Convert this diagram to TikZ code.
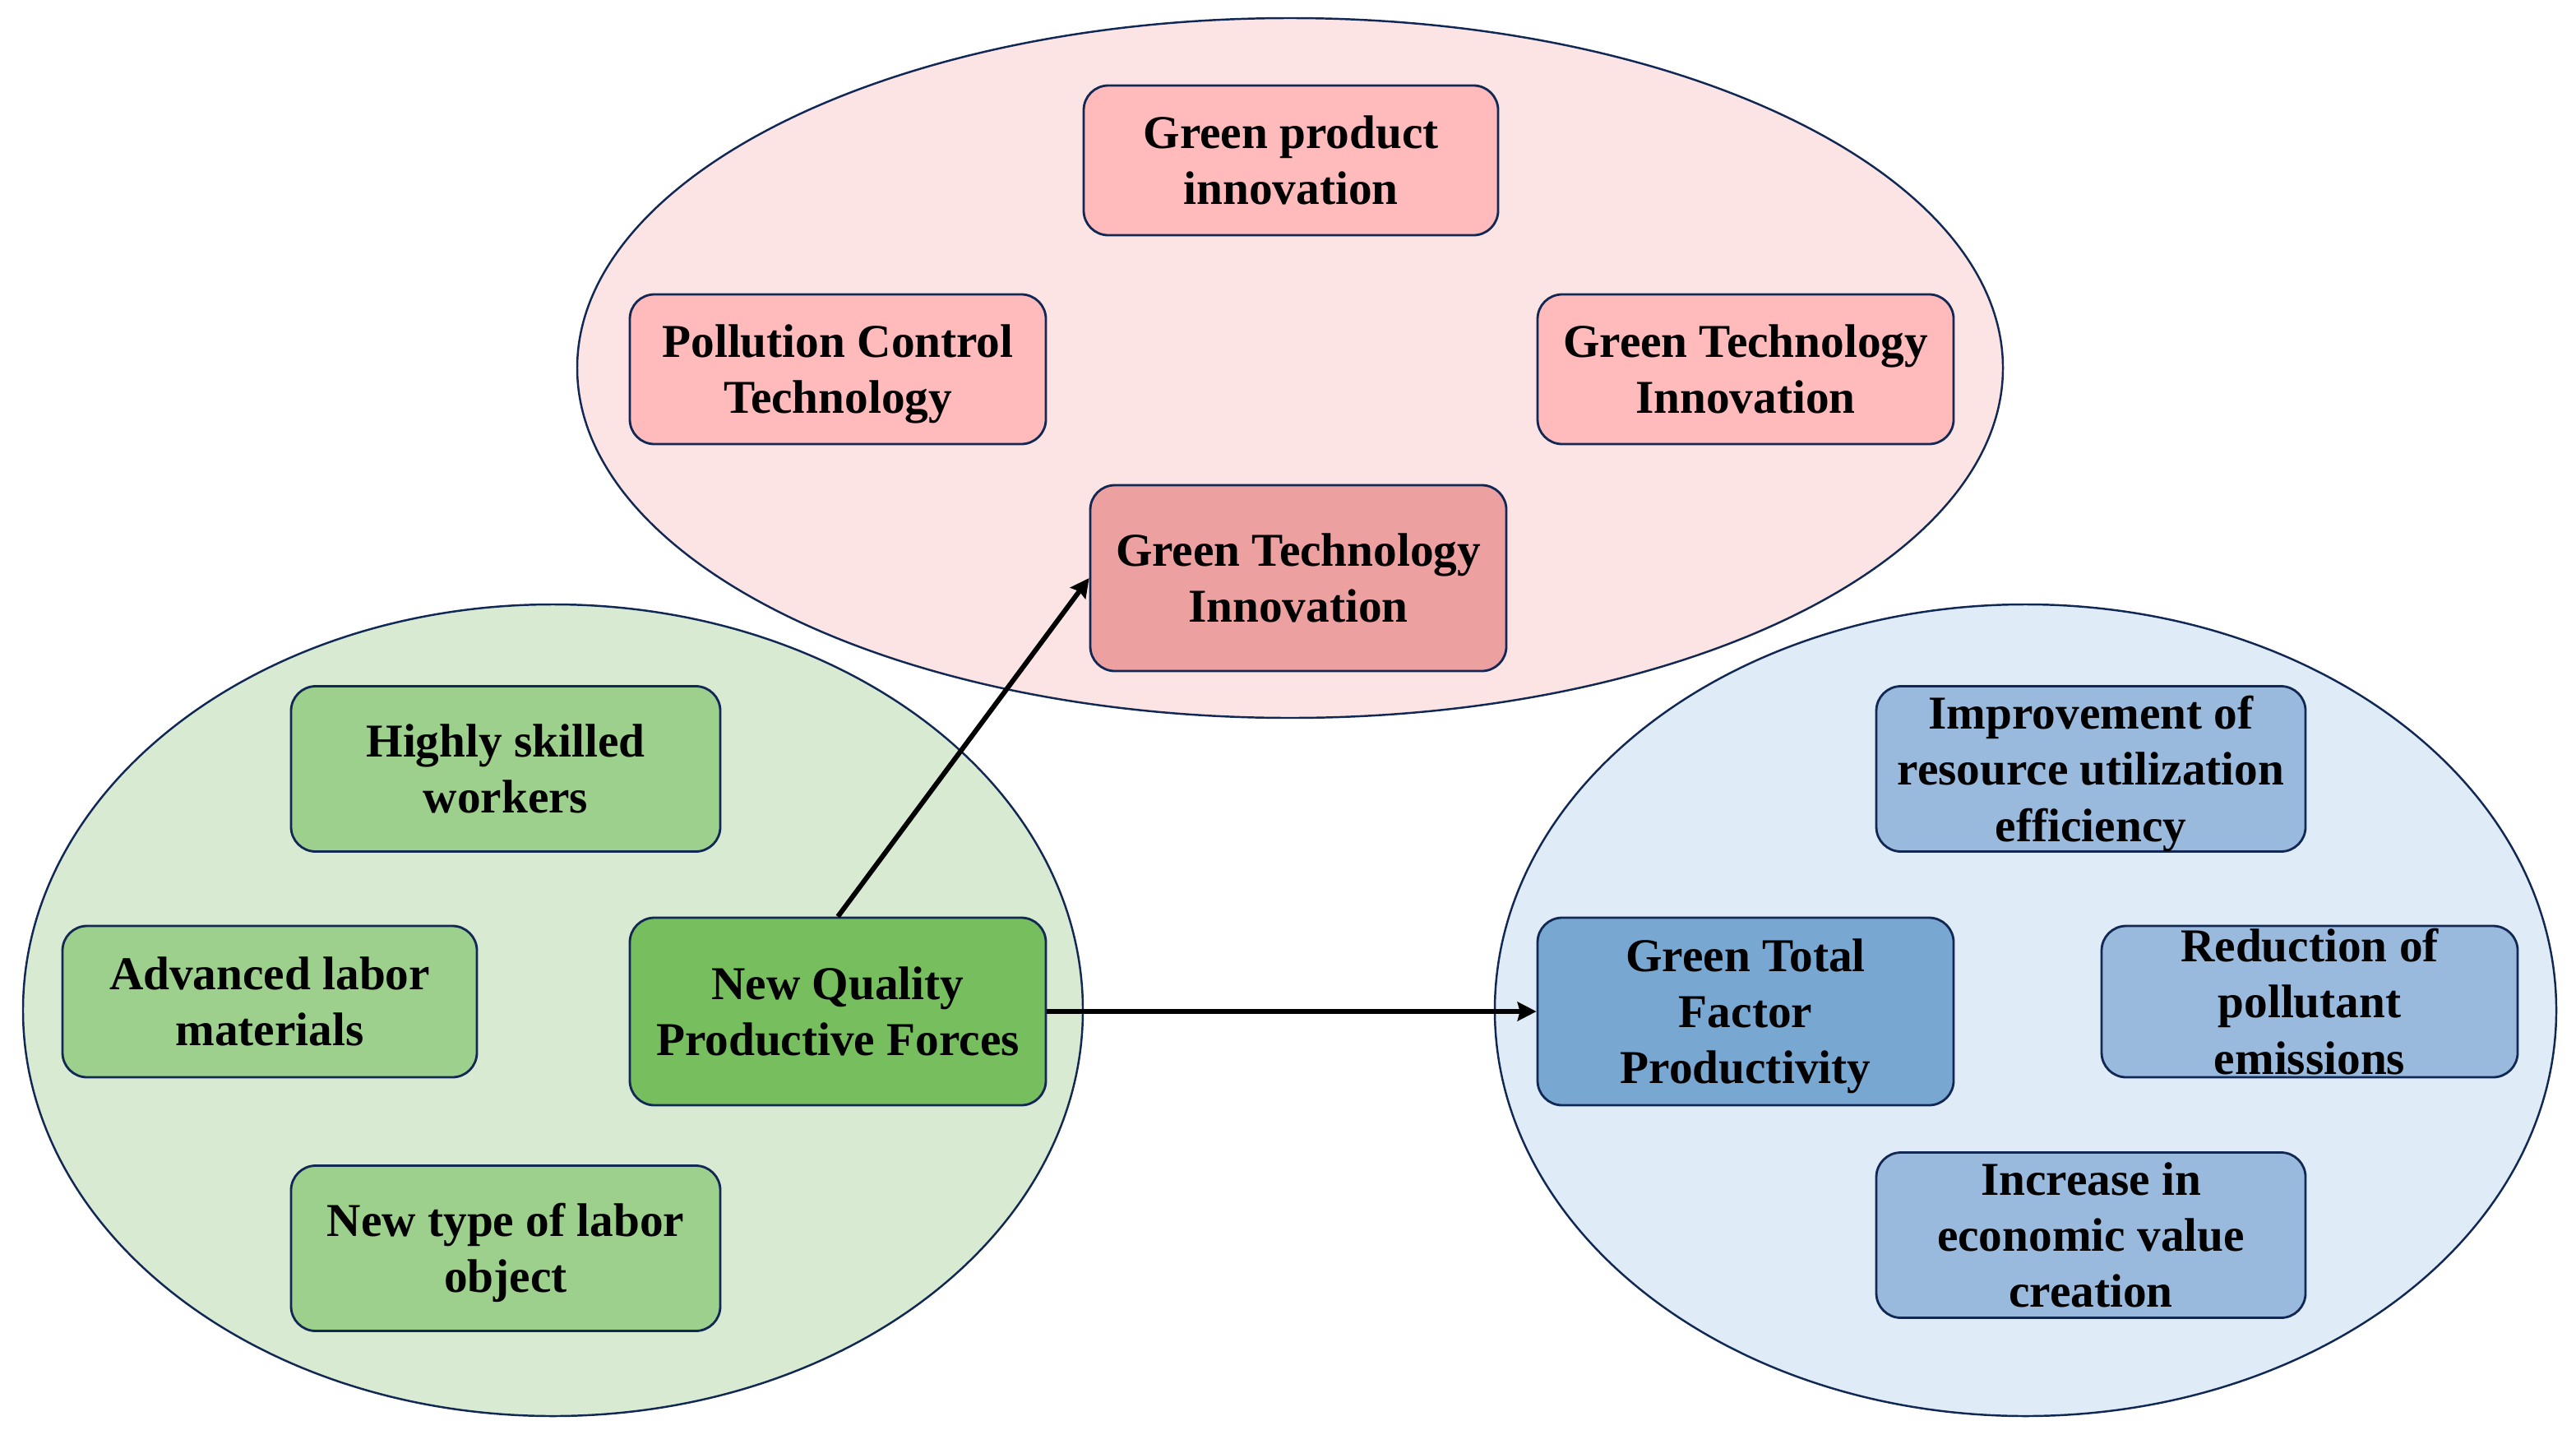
\documentclass[tikz,border=0pt]{standalone}
\usepackage{fontspec}
\setmainfont{Liberation Serif}
\usetikzlibrary{arrows.meta}
\definecolor{edgec}{RGB}{18,40,84}
\definecolor{redzone}{RGB}{252,228,229}
\definecolor{redbox}{RGB}{255,187,188}
\definecolor{redkey}{RGB}{237,160,160}
\definecolor{greenzone}{RGB}{217,234,211}
\definecolor{greenbox}{RGB}{157,208,140}
\definecolor{greenkey}{RGB}{119,190,94}
\definecolor{bluezone}{RGB}{223,235,246}
\definecolor{bluebox}{RGB}{153,186,221}
\definecolor{bluekey}{RGB}{120,168,210}
\tikzset{
  zone/.style  = {draw=edgec, line width=0.7pt},
  card/.style  = {draw=edgec, line width=0.8pt, rounded corners=8.5pt,
                  minimum width=5.06cm, minimum height=1.82cm, inner sep=0pt},
  wide/.style  = {minimum width=5.22cm, minimum height=2.01cm},
  words/.style = {align=center, inner sep=0pt, yshift=-1.7pt,
                  font=\bfseries\fontsize{16.3}{19.4}\selectfont,
                  execute at end node=\vphantom{g}},
  flow/.style  = {-{Stealth[length=6.5pt, width=6.5pt, inset=0.8pt]}, line width=1.7pt},
}
\begin{document}
\begin{tikzpicture}
\useasboundingbox (0,0) rectangle (31.33,-17.55);

% the three zones
\draw[zone, fill=redzone]   (15.69,-4.475)  ellipse [x radius=8.67,  y radius=4.255];
\draw[zone, fill=greenzone] (6.725,-12.285) ellipse [x radius=6.445, y radius=4.935];
\draw[zone, fill=bluezone]  (24.635,-12.285) ellipse [x radius=6.455, y radius=4.935];

% green technology innovation
\node[card, fill=redbox, minimum width=5.04cm] (gpi) at (15.70,-1.95) {};
\node[card, fill=redbox] (pct) at (10.19,-4.49) {};
\node[card, fill=redbox] (gtr) at (21.23,-4.49) {};
\node[card, fill=redkey, minimum height=2.26cm] (gti) at (15.79,-7.03) {};

% new quality productive forces
\node[card, wide, fill=greenbox] (hsw) at (6.15,-9.35) {};
\node[card, fill=greenbox, minimum width=5.04cm, minimum height=1.84cm] (alm) at (3.28,-12.18) {};
\node[card, fill=greenkey, minimum height=2.28cm] (nqpf) at (10.19,-12.30) {};
\node[card, wide, fill=greenbox] (ntlo) at (6.15,-15.18) {};

% green total factor productivity
\node[card, wide, fill=bluebox] (irue) at (25.43,-9.35) {};
\node[card, fill=bluekey, minimum height=2.28cm] (gtfp) at (21.23,-12.30) {};
\node[card, fill=bluebox, minimum height=1.84cm] (rpe) at (28.09,-12.18) {};
\node[card, wide, fill=bluebox] (iev) at (25.43,-15.02) {};

\node[words] (gpi-t)  at (gpi)  {Green product\\innovation};
\node[words] (pct-t)  at (pct)  {Pollution Control\\Technology};
\node[words] (gtr-t)  at (gtr)  {Green Technology\\Innovation};
\node[words] (gti-t)  at (gti)  {Green Technology\\Innovation};
\node[words] (hsw-t)  at (hsw)  {Highly skilled\\workers};
\node[words] (alm-t)  at (alm)  {Advanced labor\\materials};
\node[words] (nqpf-t) at (nqpf) {New Quality\\Productive Forces};
\node[words] (ntlo-t) at (ntlo) {New type of labor\\object};
\node[words] (irue-t) at (irue) {Improvement of\\resource utilization\\efficiency};
\node[words] (gtfp-t) at (gtfp) {Green Total\\Factor\\Productivity};
\node[words] (rpe-t)  at (rpe)  {Reduction of\\pollutant\\emissions};
\node[words] (iev-t)  at (iev)  {Increase in\\economic value\\creation};

\draw[flow] (nqpf.north) -- (gti.west);
\draw[flow] (nqpf.east) -- (gtfp.west);

\end{tikzpicture}
\end{document}
